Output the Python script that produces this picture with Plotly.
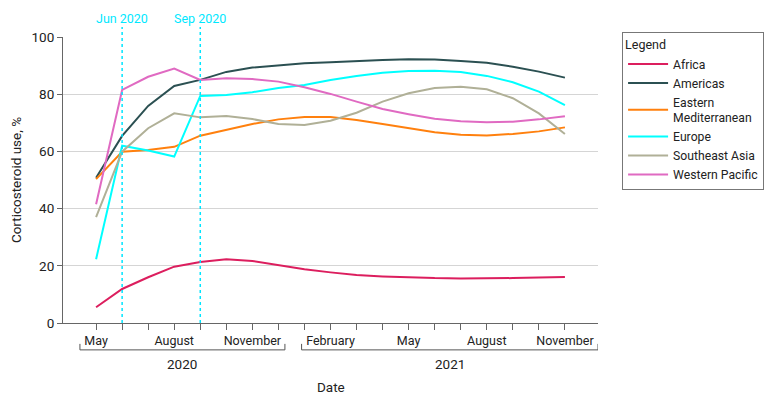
import plotly.graph_objects as go

months = ["May 2020", "Jun 2020", "Jul 2020", "Aug 2020", "Sep 2020", "Oct 2020", "Nov 2020",
          "Dec 2020", "Jan 2021", "Feb 2021", "Mar 2021", "Apr 2021", "May 2021", "Jun 2021",
          "Jul 2021", "Aug 2021", "Sep 2021", "Oct 2021", "Nov 2021"]
tick_labels = ["May", "", "", "August", "", "", "November", "", "", "February", "", "",
               "May", "", "", "August", "", "", "November"]

africa = [5.5, 11.9, 16.0, 19.7, 21.3, 22.3, 21.7, 20.3, 18.8, 17.7, 16.8, 16.3, 15.9, 15.7,
          15.6, 15.6, 15.7, 15.9, 16.1]
americas = [50.8, 65.4, 75.9, 82.9, 85.0, 87.8, 89.3, 90.0, 90.8, 91.2, 91.7, 92.0, 92.2, 92.1,
            91.6, 91.0, 89.6, 87.9, 85.8]
eastern_med = [50.3, 59.9, 60.5, 61.6, 65.5, 67.5, 69.6, 71.2, 72.0, 72.0, 71.0, 69.6, 68.1, 66.7,
               65.8, 65.6, 66.1, 67.0, 68.4]
europe = [22.3, 62.0, 60.3, 58.2, 79.4, 79.7, 80.7, 82.2, 83.2, 85.0, 86.4, 87.5, 88.1, 88.2,
          87.8, 86.4, 84.2, 80.9, 76.2]
southeast_asia = [37.0, 59.9, 68.1, 73.3, 71.9, 72.4, 71.3, 69.6, 69.2, 70.7, 73.5, 77.4, 80.3,
                  82.2, 82.6, 81.7, 78.6, 73.3, 66.1]
western_pacific = [41.5, 81.5, 86.1, 89.0, 85.0, 85.6, 85.3, 84.4, 82.4, 80.1, 77.4, 74.8, 73.0,
                   71.4, 70.5, 70.2, 70.4, 71.2, 72.3]

series = [
    ("Africa", africa, "#DC1E5E"),
    ("Americas", americas, "#2B5052"),
    ("Eastern<br>Mediterranean", eastern_med, "#FF800E"),
    ("Europe", europe, "#00FFFF"),
    ("Southeast Asia", southeast_asia, "#B0B097"),
    ("Western Pacific", western_pacific, "#E06AC2"),
]

events = ["Jun 2020", "Sep 2020"]
# year groups: label, bracket start and end (in month-index units)
years = [("2020", -0.62, 7.25), ("2021", 7.89, 19.27)]

FONT = "Roboto, Lato, sans-serif"
idx = list(range(len(months)))
XR = [-1.27, 19.27]

fig = go.Figure()
for name, vals, col in series:
    fig.add_trace(go.Scatter(x=idx, y=vals, mode="lines", name=name,
                             line=dict(color=col, width=2)))

shapes = []
annotations = []
for ev in events:
    xi = months.index(ev)
    shapes.append(dict(type="line", xref="x", yref="paper", x0=xi, x1=xi, y0=0, y1=1.035,
                       line=dict(color="#00E5FF", width=1.5, dash="dot")))
    annotations.append(dict(x=xi, y=1.066, xref="x", yref="paper", text=ev, showarrow=False,
                            xanchor="center", yanchor="middle",
                            font=dict(color="#00E8FF", size=12.5, family=FONT)))

by = -0.094
bh = 0.021
for label, x0, x1 in years:
    shapes.append(dict(type="path", xref="x", yref="paper",
                       path=f"M {x0},{by+bh} L {x0},{by} L {x1},{by} L {x1},{by+bh}",
                       line=dict(color="#555555", width=1)))
    annotations.append(dict(x=(x0 + x1) / 2, y=-0.143, xref="x", yref="paper", text=label,
                            showarrow=False, xanchor="center", yanchor="middle",
                            font=dict(size=13.5, color="#222222", family=FONT)))

annotations.append(dict(x=(XR[0] + XR[1]) / 2, y=-0.224, xref="x", yref="paper", text="Date",
                        showarrow=False, xanchor="center", yanchor="middle",
                        font=dict(size=13.5, color="#222222", family=FONT)))

fig.update_layout(
    width=780, height=405,
    margin=dict(l=63, r=182, t=37, b=82),
    paper_bgcolor="white", plot_bgcolor="white",
    font=dict(family=FONT, size=13, color="#222222"),
    shapes=shapes, annotations=annotations,
    legend=dict(x=1.045, y=1.017, xanchor="left", yanchor="top",
                title=dict(text="Legend", font=dict(size=12.5)),
                bordercolor="#777777", borderwidth=1, itemwidth=40,
                font=dict(size=12.2), tracegroupgap=0),
)
fig.update_xaxes(range=XR, tickmode="array", tickvals=idx, ticktext=tick_labels,
                 ticks="outside", ticklen=6, tickcolor="#666666", showgrid=False,
                 showline=True, linecolor="#666666", linewidth=1, zeroline=False,
                 tickfont=dict(size=12.5), automargin=False)
fig.update_yaxes(range=[0, 100], tickvals=[0, 20, 40, 60, 80, 100], ticks="outside", ticklen=5,
                 tickcolor="#666666", showgrid=True, gridcolor="#D5D5D5", gridwidth=1,
                 showline=True, linecolor="#666666", linewidth=1, zeroline=False,
                 title=dict(text="Corticosteroid use, %", font=dict(size=13.5), standoff=6),
                 tickfont=dict(size=13.5), automargin=False)

fig.write_html("out.html", config={"displayModeBar": False},
               post_script="document.body.style.margin='0';")
